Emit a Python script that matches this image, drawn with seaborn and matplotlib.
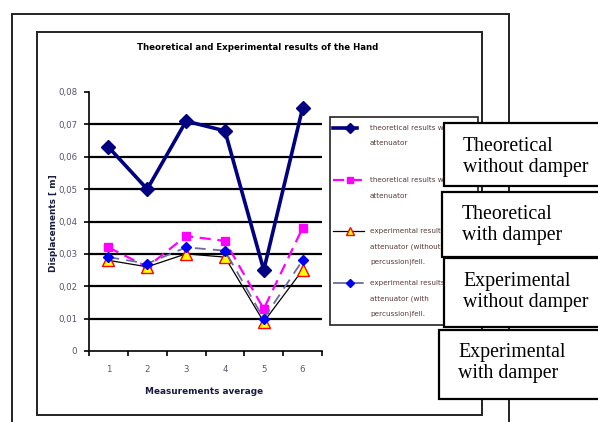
import matplotlib
matplotlib.use("Agg")
import matplotlib.pyplot as plt
from matplotlib.patches import Rectangle
from matplotlib.lines import Line2D
from matplotlib.ticker import FixedLocator, FuncFormatter
import numpy as np
import pandas as pd
import seaborn as sns

# Measurements and displacements [m]
measurements = [1, 2, 3, 4, 5, 6]
theoretical_without = [0.063, 0.050, 0.071, 0.068, 0.025, 0.075]
theoretical_with = [0.032, 0.026, 0.0355, 0.034, 0.013, 0.038]
experimental_without = [0.028, 0.026, 0.030, 0.029, 0.009, 0.025]
experimental_with = [0.029, 0.027, 0.032, 0.031, 0.010, 0.028]

series_names = ["theoretical results without attenuator",
                "theoretical results with attenuator",
                "experimental results attenuator (without percussion)fell.",
                "experimental results attenuator (with percussion)fell."]
legend_lines = [["theoretical results without", "attenuator"],
                ["theoretical results with", "attenuator"],
                ["experimental results", "attenuator (without", "percussion)fell."],
                ["experimental results", "attenuator (with", "percussion)fell."]]
box_labels = ["Theoretical\nwithout damper", "Theoretical\nwith damper",
              "Experimental\nwithout damper", "Experimental\nwith damper"]
yticks = [0, 0.01, 0.02, 0.03, 0.04, 0.05, 0.06, 0.07, 0.08]

df = pd.concat([
    pd.DataFrame({"measurement": measurements, "displacement": vals, "series": name})
    for name, vals in zip(series_names,
                          [theoretical_without, theoretical_with,
                           experimental_without, experimental_with])
], ignore_index=True)

W, H = 598, 422
fig = plt.figure(figsize=(W / 100, H / 100), dpi=100)
fig.patch.set_facecolor("white")


def fx(x):
    return x / W


def fy(y):
    return 1 - y / H


# plot area
ax_l, ax_r, ax_t, ax_b = 89, 322, 92, 351
ax = fig.add_axes([fx(ax_l), fy(ax_b), fx(ax_r - ax_l), (ax_b - ax_t) / H])
ax.set_facecolor("white")

styles = {
    series_names[0]: dict(color="#000080", lw=2.6, marker="D", ms=7,
                          mfc="#000080", mec="#000080", ls="-", zorder=5),
    series_names[1]: dict(color="#ff00ff", lw=1.6, marker="s", ms=5.5,
                          mfc="#ff00ff", mec="#ff00ff", ls=(0, (5, 3)), zorder=3),
    series_names[2]: dict(color="black", lw=0.9, marker="^", ms=8,
                          mfc="#ffff00", mec="#ff0000", mew=1.0, ls="-", zorder=4),
    series_names[3]: dict(color="#6a6aa0", lw=1.3, marker="D", ms=5.5,
                          mfc="#0000ee", mec="#0000ee", ls=(0, (6, 4)), zorder=6),
}
for name in series_names:
    st = styles[name]
    sns.lineplot(data=df[df["series"] == name], x="measurement", y="displacement",
                 ax=ax, color=st["color"], linewidth=st["lw"], marker=st["marker"],
                 markersize=st["ms"], markerfacecolor=st["mfc"],
                 markeredgecolor=st["mec"], markeredgewidth=st.get("mew", 1),
                 linestyle=st["ls"], legend=False, zorder=st["zorder"])

ax.set_xlim(0.5, 6.5)
ax.set_ylim(0, 0.08)
for s in ["top", "right"]:
    ax.spines[s].set_visible(False)
for s in ["left", "bottom"]:
    ax.spines[s].set_linewidth(1.2)
    ax.spines[s].set_color("black")

ax.yaxis.set_major_locator(FixedLocator(yticks))
ax.yaxis.set_major_formatter(FuncFormatter(
    lambda v, p: "0" if v == 0 else f"{v:.2f}".replace(".", ",")))
ax.xaxis.set_major_locator(FixedLocator(measurements))
ax.xaxis.set_minor_locator(FixedLocator(np.arange(0.5, 7, 1)))
ax.tick_params(axis="x", which="major", length=0, pad=10, labelsize=6.2,
               labelcolor="#55556a")
ax.tick_params(axis="x", which="minor", length=3.5, width=1.2, direction="out")
ax.tick_params(axis="y", length=3.5, width=1.2, direction="out", pad=5,
               labelsize=6.2, labelcolor="#55556a")

for v in yticks[1:-1]:
    ax.axhline(v, color="black", lw=1.6, zorder=1)

ax.set_xlabel("")
ax.set_ylabel("")
fig.text(fx(204), fy(392), "Measurements average", ha="center", va="center",
         fontsize=6.4, color="#1a1a40", fontweight="bold")
fig.text(fx(53), fy(223), "Displacements [ m]", ha="center", va="center",
         rotation=90, fontsize=6.4, color="#1a1a40", fontweight="bold")
fig.text(fx(258), fy(48), "Theoretical and Experimental results of the Hand",
         ha="center", va="center", fontsize=6.2, color="black", fontweight="bold")

# surrounding frames
fig.add_artist(Rectangle((fx(12), fy(440)), fx(509 - 12), (440 - 14) / H,
                         transform=fig.transFigure, fill=False, ec="#222222",
                         lw=1.4, zorder=1))
fig.add_artist(Rectangle((fx(37), fy(415)), fx(482 - 37), (415 - 32) / H,
                         transform=fig.transFigure, fill=False, ec="#222222",
                         lw=1.4, zorder=1))

# legend
fig.add_artist(Rectangle((fx(330), fy(325)), fx(478 - 330), (325 - 117) / H,
                         transform=fig.transFigure, fc="white", ec="#222222",
                         lw=1.2, zorder=2))
legend_y = [128, 180, 231, 283]
for name, lines, ly in zip(series_names, legend_lines, legend_y):
    st = styles[name]
    x1 = 357 if name == series_names[0] else 364
    fig.add_artist(Line2D([fx(333), fx(x1)], [fy(ly), fy(ly)],
                          transform=fig.transFigure, color=st["color"],
                          lw=st["lw"], ls=st["ls"] if name != series_names[3] else (0, (17, 6, 4, 10)),
                          zorder=3))
    fig.add_artist(Line2D([fx(350)], [fy(ly)], transform=fig.transFigure,
                          ls="none", marker=st["marker"], ms=st["ms"] * 0.7,
                          mfc=st["mfc"], mec=st["mec"], mew=st.get("mew", 1),
                          zorder=4))
    for i, t in enumerate(lines):
        fig.text(fx(370), fy(ly + 15.5 * i), t, ha="left", va="center",
                 fontsize=5.2, color="#5a3a3a", zorder=3)

# labelled boxes on the right
boxes = [(444, 123, 186, 463, 157),
         (442, 192, 257, 462, 225),
         (444, 258, 327, 463, 292),
         (439, 330, 399, 458, 363)]
for (bx, by0, by1, tx, ty), lab in zip(boxes, box_labels):
    fig.add_artist(Rectangle((fx(bx), fy(by1)), fx(620 - bx), (by1 - by0) / H,
                             transform=fig.transFigure, fc="white", ec="black",
                             lw=1.6, zorder=10))
    fig.text(fx(tx), fy(ty), lab, ha="left", va="center", fontsize=14.3,
             family="Liberation Serif", linespacing=1.08, color="black", zorder=11)

fig.savefig("out.png", dpi=100, facecolor="white")
